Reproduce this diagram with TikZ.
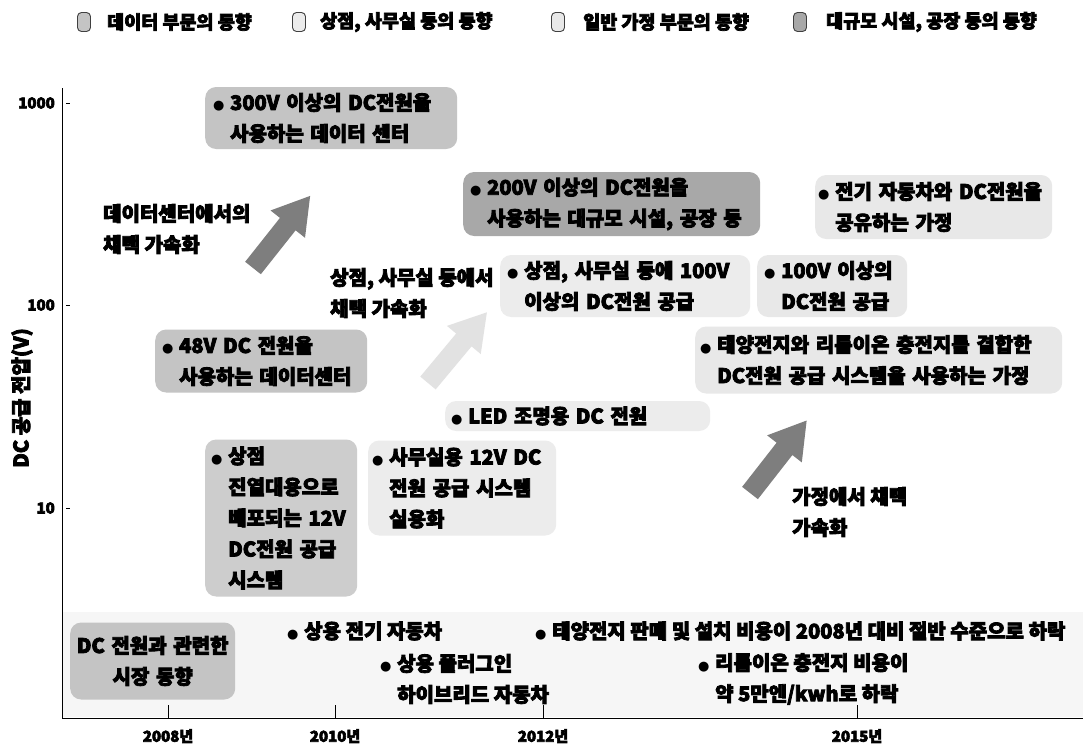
\documentclass[tikz,border=0pt]{standalone}
\usepackage{fontspec}
\setmainfont{Noto Sans CJK KR}[UprightFeatures={FakeBold=4}, BoldFeatures={FakeBold=4}]
\newfontfamily\djv{DejaVu Sans}
\definecolor{datafill}{HTML}{C4C4C4}
\definecolor{largefill}{HTML}{A8A8A8}
\definecolor{storefill}{HTML}{ECECEC}
\definecolor{homefill}{HTML}{E8E8E8}
\definecolor{shopfill}{HTML}{CDCDCD}
\definecolor{bandfill}{HTML}{F6F6F6}
\definecolor{darkarrow}{HTML}{7E7E7E}
\definecolor{lightarrow}{HTML}{E2E2E2}
\newcommand\bul{\makebox[17pt][l]{\fontsize{13}{13}\selectfont\djv ●}}
\newcommand\ind{\makebox[17pt]{}}
\tikzset{
  txt/.style={font=\fontsize{20}{31}\selectfont\bfseries, inner sep=0pt, align=left},
  tbox/.style={txt, rounded corners=11pt, anchor=west, inner ysep=0pt},
  legtxt/.style={font=\fontsize{18.5}{20}\selectfont\bfseries, inner sep=0pt, anchor=west},
  swatch/.style={rounded corners=4pt, draw=black!75, line width=0.9pt, minimum width=13pt, minimum height=19pt, inner sep=0pt},
  axlab/.style={font=\fontsize{15}{16}\selectfont\bfseries, inner sep=0pt},
  pics/bigarrow/.style={code={\fill[#1] (0,-10) -- (56,-10) -- (56,-22) -- (92,0) -- (56,22) -- (56,10) -- (0,10) -- cycle;}}
}
\begin{document}
\begin{tikzpicture}[x=1pt,y=-1pt]
\useasboundingbox[fill=white] (0,0) rectangle (1083,747);
% bottom band
\fill[bandfill] (63,612) rectangle (1083,717);
% legend
\node[swatch, fill=datafill] (sw1) at (84,22) {};
\node[legtxt] (lg1) at (107,22) {데이터 부문의 동향};
\node[swatch, fill=storefill] (sw2) at (299,22) {};
\node[legtxt] (lg2) at (320,22) {상점, 사무실 등의 동향};
\node[swatch, fill=homefill] (sw3) at (558,22) {};
\node[legtxt] (lg3) at (583,22) {일반 가정 부문의 동향};
\node[swatch, fill=largefill] (sw4) at (800,22) {};
\node[legtxt] (lg4) at (826,22) {대규모 시설, 공장 등의 동향};
% axes
\coordinate (ytop) at (62,88);
\coordinate (origin) at (62,718);
\coordinate (xend) at (1083,718);
\draw[line width=1pt] (ytop) -- (origin) -- (xend);
\foreach \yy/\lab in {103/1000,305/100,508/10}{
  \draw[line width=0.8pt] (66,\yy) -- (70,\yy);
  \node[axlab, anchor=east] at (55,\yy) {\lab};
}
\foreach \xx/\lab in {168/2008년,335/2010년,543/2012년,857/2015년}{
  \draw[line width=0.8pt] (\xx,705) -- (\xx,718);
  \node[axlab, anchor=center] at (\xx,736) {\lab};
}
\node[axlab, font=\fontsize{20}{21}\selectfont\bfseries, rotate=90] (ylab) at (22,398) {DC 공급 전압(V)};
% boxes
\node[tbox, fill=datafill, text width=236pt, inner xsep=8pt, minimum height=62pt] (d300) at (205,118)
  {\bul 300V 이상의 DC전원을\\\ind 사용하는 데이터 센터};
\node[tbox, fill=datafill, text width=198pt, inner xsep=7pt, minimum height=63pt] (d48) at (155,361)
  {\bul 48V DC 전원을\\\ind 사용하는 데이터센터};
\node[tbox, fill=largefill, text width=283pt, inner xsep=7pt, minimum height=64pt] (big200) at (463,204)
  {\bul 200V 이상의 DC전원을\\\ind 사용하는 대규모 시설, 공장 등};
\node[tbox, fill=storefill, text width=236pt, inner xsep=7pt, minimum height=62pt] (s100) at (500,286)
  {\bul 상점, 사무실 등에 100V\\\ind 이상의 DC전원 공급};
\node[tbox, fill=storefill, text width=253pt, inner xsep=6pt, minimum height=30pt] (led) at (445,416)
  {\bul LED 조명용 DC 전원};
\node[tbox, fill=storefill, text width=180pt, inner xsep=4pt, minimum height=95pt] (s12) at (368,488)
  {\bul 사무실용 12V DC\\\ind 전원 공급 시스템\\\ind 실용화};
\node[tbox, fill=shopfill, text width=140pt, inner xsep=6pt, minimum height=157pt] (shop12) at (205,518)
  {\bul 상점\\\ind 진열대용으로\\\ind 배포되는 12V\\\ind DC전원 공급\\\ind 시스템};
\node[tbox, fill=homefill, text width=231pt, inner xsep=3pt, minimum height=64pt] (ev) at (815,207)
  {\bul 전기 자동차와 DC전원을\\\ind 공유하는 가정};
\node[tbox, fill=homefill, text width=136pt, inner xsep=7pt, minimum height=62pt] (h100) at (757,286)
  {\bul 100V 이상의\\\ind DC전원 공급};
\node[tbox, fill=homefill, text width=357pt, inner xsep=5pt, minimum height=67pt] (solar) at (695,360)
  {\bul 태양전지와 리튬이온 충전지를 결합한\\\ind DC전원 공급 시스템을 사용하는 가정};
\node[tbox, fill=datafill, text width=155pt, inner xsep=5pt, minimum height=77pt, align=center] (market) at (70,661)
  {DC 전원과 관련한\\시장 동향};
% arrows
\pic[rotate=51.6] at (253,268) {bigarrow=darkarrow};
\pic[rotate=50.2] at (428,383) {bigarrow=lightarrow};
\pic[rotate=52] at (750,493) {bigarrow=darkarrow};
% arrow labels
\node[txt, anchor=west] (acc1) at (103,229) {데이터센터에서의\\채택 가속화};
\node[txt, anchor=west] (acc2) at (330,293) {상점, 사무실 등에서\\채택 가속화};
\node[txt, anchor=west] (acc3) at (792,512) {가정에서 채택\\가속화};
% bottom market texts
\node[txt, anchor=west] (ev1) at (287,631) {\bul 상용 전기 자동차};
\node[txt, anchor=west] (phev) at (380,679) {\bul 상용 플러그인\\\ind 하이브리드 자동차};
\node[txt, anchor=west] (pv) at (535,631) {\bul 태양전지 판매 및 설치 비용이 2008년 대비 절반 수준으로 하락};
\node[txt, anchor=west] (li) at (698,679) {\bul 리튬이온 충전지 비용이\\\ind 약 5만엔/kwh로 하락};
\end{tikzpicture}
\end{document}
